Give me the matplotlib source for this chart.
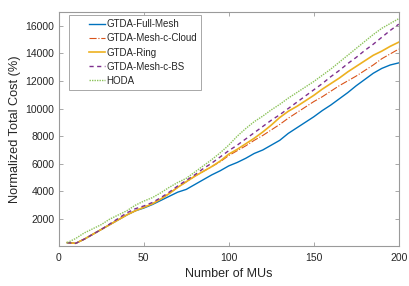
import matplotlib
matplotlib.use('Agg')
import matplotlib.pyplot as plt
from matplotlib.legend_handler import HandlerLine2D
import numpy as np

plt.rcParams['font.family'] = ['Liberation Sans', 'DejaVu Sans']

# number of MUs
mus = np.arange(5, 201, 5)

full_mesh = [300, 250, 550, 900, 1250, 1600, 1950, 2300, 2600, 2800,
             3050, 3350, 3650, 3950, 4150, 4500, 4850, 5200, 5500, 5850,
             6100, 6400, 6750, 7000, 7350, 7700, 8200, 8600, 9000, 9400,
             9850, 10250, 10700, 11150, 11650, 12100, 12550, 12900, 13150, 13300]
mesh_cloud = [300, 250, 550, 900, 1250, 1600, 1950, 2300, 2600, 2850,
              3100, 3450, 3850, 4300, 4700, 5100, 5450, 5800, 6150, 6600,
              6950, 7300, 7700, 8050, 8450, 8850, 9300, 9700, 10100, 10500,
              10850, 11250, 11650, 12000, 12350, 12750, 13150, 13600, 13950, 14300]
ring = [300, 250, 550, 900, 1250, 1600, 1950, 2300, 2600, 2850,
        3100, 3450, 3850, 4300, 4700, 5100, 5450, 5800, 6200, 6700,
        7050, 7450, 7850, 8300, 8800, 9350, 9800, 10150, 10550, 10950,
        11400, 11800, 12200, 12650, 13050, 13450, 13850, 14150, 14500, 14800]
mesh_bs = [300, 250, 550, 900, 1250, 1650, 2050, 2450, 2750, 2950,
           3200, 3550, 3950, 4400, 4800, 5200, 5650, 6050, 6500, 6950,
           7350, 7800, 8250, 8700, 9150, 9550, 10000, 10450, 10900, 11350,
           11800, 12300, 12750, 13250, 13700, 14200, 14650, 15150, 15650, 16100]
hoda = [300, 600, 1000, 1300, 1600, 2000, 2300, 2600, 3000, 3300,
        3550, 3900, 4300, 4650, 4950, 5400, 5850, 6300, 6800, 7350,
        8000, 8550, 9050, 9450, 9900, 10300, 10750, 11150, 11550, 11950,
        12400, 12850, 13350, 13850, 14350, 14850, 15350, 15800, 16150, 16500]


class PaddedLine(HandlerLine2D):
    # matlab-style legend: empty space left of the sample line
    def create_artists(self, legend, orig_handle, xdescent, ydescent,
                       width, height, fontsize, trans):
        arts = super().create_artists(legend, orig_handle, xdescent, ydescent,
                                      width, height, fontsize, trans)
        for a in arts:
            x = np.asarray(a.get_xdata(), dtype=float)
            if len(x) > 1:
                x0, x1 = x.min(), x.max()
                a.set_xdata(np.linspace(x0 + 0.48 * (x1 - x0), x1, len(x)))
        return arts


fig = plt.figure(figsize=(4.09, 2.86), dpi=100)
ax = fig.add_axes([0.1435, 0.14, 0.8315, 0.819])

ax.plot(mus, full_mesh, color='#0072BD', lw=1.0, ls='-', label='GTDA-Full-Mesh')
ax.plot(mus, mesh_cloud, color='#D95319', lw=0.8, ls='-.', label='GTDA-Mesh-c-Cloud')
ax.plot(mus, ring, color='#EDB120', lw=1.2, ls='-', label='GTDA-Ring')
ax.plot(mus, mesh_bs, color='#7E2F8E', lw=1.0, ls=(0, (3, 2.5)), label='GTDA-Mesh-c-BS')
ax.plot(mus, hoda, color='#8cc35a', lw=1.0, ls=(0, (1, 0.8)), label='HODA')

ax.set_xlim(0, 200)
ax.set_ylim(60, 17000)
ax.set_xticks([0, 50, 100, 150, 200])
ax.set_yticks([2000, 4000, 6000, 8000, 10000, 12000, 14000, 16000])

txt = '#262626'
for s in ax.spines.values():
    s.set_color('#9a9a9a')
    s.set_linewidth(0.8)
ax.tick_params(direction='in', top=True, right=True, length=3, width=0.6,
               color='#9a9a9a', labelsize=7.5, labelcolor=txt, pad=3)
ax.tick_params(axis='x', pad=5)

ax.set_xlabel('Number of MUs', fontsize=9, color=txt, labelpad=4)
ax.set_ylabel('Normalized Total Cost (%)', fontsize=9.2, color=txt, labelpad=3)

leg = ax.legend(loc='upper left', fontsize=7, frameon=True, fancybox=False,
                edgecolor='#9a9a9a', framealpha=1, handlelength=3.3,
                handletextpad=0.1, borderpad=0.45, labelspacing=0.42,
                borderaxespad=0, bbox_to_anchor=(0.03, 0.986),
                handler_map={plt.Line2D: PaddedLine()})
leg.get_frame().set_linewidth(0.6)
for t in leg.get_texts():
    t.set_color(txt)

fig.savefig('out.png', dpi=100)
